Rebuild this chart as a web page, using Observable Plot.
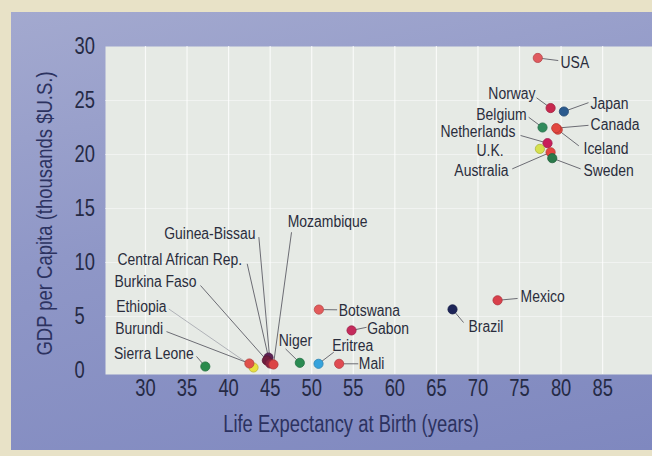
<!DOCTYPE html>
<html>
<head>
<meta charset="utf-8">
<script src="https://cdn.jsdelivr.net/npm/d3@7"></script>
<script src="https://cdn.jsdelivr.net/npm/@observablehq/plot@0.6"></script>
<style>
  html, body { margin: 0; padding: 0; background: #e8e2c7; width: 652px; height: 456px; overflow: hidden; }
  #chart { position: absolute; left: 11px; top: 12px; }
  #chart svg { display: block; }
</style>
</head>
<body>
<div id="chart"></div>
<script>
// ---- data ----
const countries = ["USA","Norway","Japan","Belgium","Iceland","Canada","Netherlands","U.K.","Australia","Sweden",
  "Mexico","Brazil","Botswana","Gabon","Eritrea","Mali","Niger","Sierra Leone","Ethiopia","Burundi",
  "Central African Rep.","Burkina Faso","Guinea-Bissau","Mozambique"];
const lifeExp = [77.2, 78.74, 80.34, 77.77, 79.6, 79.42, 78.37, 77.45, 78.74, 78.94,
  72.36, 66.94, 50.86, 54.79, 50.82, 53.3, 48.57, 37.2, 43.0, 42.5,
  44.8, 44.6, 45.0, 45.4];
const gdp = [28.94, 24.3, 23.98, 22.5, 22.3, 22.44, 21.05, 20.52, 20.21, 19.66,
  6.5, 5.66, 5.64, 3.71, 0.62, 0.62, 0.71, 0.37, 0.28, 0.65,
  1.2, 0.93, 0.65, 0.56];
const xTicks = [30, 35, 40, 45, 50, 55, 60, 65, 70, 75, 80, 85];
const yTicks = [0, 5, 10, 15, 20, 25, 30];

// label anchors (data units) and leader-line starts
const labelX = [79.94, 76.93, 83.55, 75.85, 82.7, 83.55, 74.52, 73.08, 73.68, 82.7,
  75.13, 68.87, 53.26, 56.68, 52.46, 55.67, 46.04, 35.81, 32.53, 32.13,
  41.63, 36.14, 43.24, 47.12];
const labelY = [28.45, 25.6, 24.7, 23.7, 20.5, 22.7, 22.05, 20.3, 18.5, 18.5,
  6.85, 4.07, 5.56, 3.86, 2.25, 0.6, 2.78, 1.54, 5.93, 3.86,
  10.2, 8.24, 12.65, 13.73];
const labelSide = ["start","end","start","end","start","start","end","end","end","start",
  "start","start","start","start","start","start","start","end","end","end",
  "end","end","end","start"];
const lineX = [79.66, 77.05, 83.3, 76.1, 82.14, 83.3, 75.13, NaN, 74.13, 82.35,
  74.77, 68.27, 53.06, 56.6, 52.66, 55.6, 46.85, 36.14, 32.8, 32.53,
  42.24, 36.62, 43.64, 47.57];
const lineY = [28.7, 25.25, 24.8, 23.45, 20.8, 22.7, 21.76, NaN, 18.67, 18.67,
  6.67, 4.44, 5.62, 4.0, 1.7, 0.62, 2.0, 1.3, 5.7, 3.6,
  9.88, 7.87, 12.35, 12.8];

// ---- styles ----
const dotColors = ["#e05a5f","#c8294f","#2b5a8e","#2f8a5b","#e2473f","#e2473f","#c81e5a","#d6e14d","#e4453f","#2a7a4a",
  "#d9404b","#1d2558","#e35b5b","#c42b5c","#36a3dc","#e04b52","#2a8b52","#2a8a4c","#e9e03f","#e0514b",
  "#5c2355","#6d1e3e","#8b2443","#dc4545"];
const lineColors = countries.map(c => c === "Ethiopia" ? "#a9abb2" : "#5e5e66");

const data = countries.map((name, i) => ({
  name, x: lifeExp[i], y: gdp[i], color: dotColors[i],
  edge: d3.color(dotColors[i]).darker(0.6).formatHex(),
  lc: lineColors[i],
  lx: labelX[i], ly: labelY[i], side: labelSide[i], sx: lineX[i], sy: lineY[i]
}));

const FONT = "'Liberation Sans', Arial, sans-serif";
const INK = "#252a45";

const chart = Plot.plot({
  width: 641,
  height: 438,
  marginLeft: 94,
  marginTop: 34,
  marginRight: 0,
  marginBottom: 76,
  style: {
    background: "linear-gradient(168deg, #a3a9cf 0%, #8f97c7 45%, #7f88bf 100%)",
    fontFamily: FONT,
    overflow: "visible"
  },
  x: { domain: [25.19, 91.0] },
  y: { domain: [-0.37, 30.0] },
  marks: [
    Plot.frame({ fill: "#e6eae5", stroke: null }),
    Plot.gridX(xTicks, { stroke: "#ffffff", strokeOpacity: 0.75, strokeWidth: 1.2 }),
    Plot.gridY(yTicks.filter(d => d > 0 && d < 30), { stroke: "#ffffff", strokeOpacity: 0.45, strokeWidth: 1 }),
    Plot.axisX(xTicks, { tickSize: 0, tickPadding: 5, fontSize: 23.5, fill: INK, label: null, className: "squeeze-more" }),
    Plot.axisY(yTicks, { tickSize: 0, tickPadding: 0, textAnchor: "start", dx: -31, fontSize: 23.5, fill: INK, label: null, className: "squeeze-more" }),
    Plot.text(["Life Expectancy at Birth (years)"], {
      frameAnchor: "bottom", textAnchor: "middle", dx: -28, dy: 57, fontSize: 23, fill: "#2c3260", lineAnchor: "bottom"
    }),
    Plot.text(["GDP per Capita (thousands $U.S.)"], {
      frameAnchor: "left", textAnchor: "middle", rotate: -90, dx: -61, dy: 3, fontSize: 22, fill: "#2c3260", className: "ytitle"
    }),
    Plot.link(data.filter(d => !isNaN(d.sx)), {
      x1: "sx", y1: "sy", x2: "x", y2: "y", stroke: "lc", strokeWidth: 0.9
    }),
    Plot.dot(data, { x: "x", y: "y", r: 4.6, fill: "color", stroke: "edge", strokeWidth: 0.8 }),
    Plot.text(data.filter(d => d.side === "start"), {
      x: "lx", y: "ly", text: "name", textAnchor: "start", fontSize: 16, fill: "#2a2d3c", className: "lab"
    }),
    Plot.text(data.filter(d => d.side === "end"), {
      x: "lx", y: "ly", text: "name", textAnchor: "end", fontSize: 16, fill: "#2a2d3c", className: "lab"
    })
  ]
});

document.getElementById("chart").appendChild(chart);

// condensed look: squeeze each text horizontally (like a narrow typeface)
chart.querySelectorAll("text").forEach(t => {
  const L = t.getComputedTextLength();
  if (L > 0) {
    const k = t.closest(".squeeze-more") ? 0.78 : t.closest(".lab") ? 0.87 : t.closest(".ytitle") ? 0.84 : 0.8;
    t.setAttribute("textLength", (L * k).toFixed(1));
    t.setAttribute("lengthAdjust", "spacingAndGlyphs");
  }
});
</script>
</body>
</html>
